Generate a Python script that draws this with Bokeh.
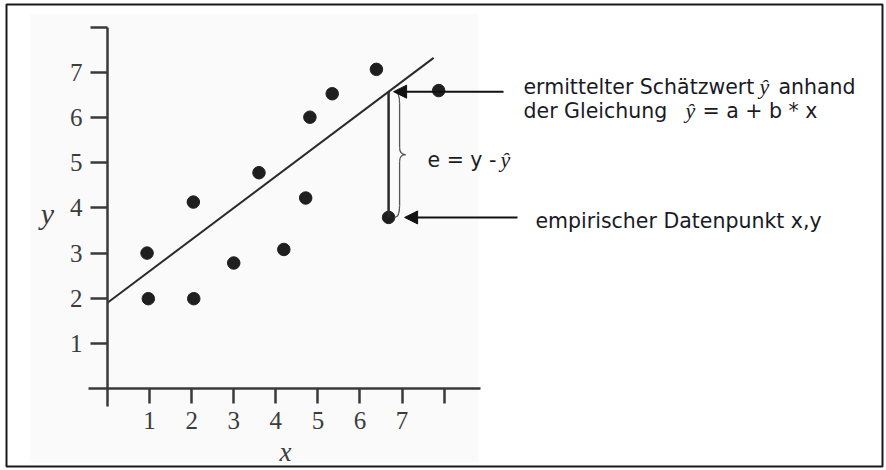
from bokeh.plotting import figure
from bokeh.models import (LinearAxis, FixedTicker, Range1d, ColumnDataSource,
                          Label, Arrow, NormalHead, BoxAnnotation)
from bokeh.embed import file_html
from bokeh.resources import INLINE

# --- data -------------------------------------------------------------
x_obs = [0.97, 0.94, 2.04, 2.05, 3.0, 3.6, 4.19, 4.71, 4.81, 5.34, 6.39, 6.68, 7.87]
y_obs = [1.99, 3.0, 4.13, 1.99, 2.78, 4.78, 3.08, 4.22, 6.01, 6.53, 7.07, 3.79, 6.6]

# regression line  y_hat = a + b * x
a_coef = 1.9
b_coef = 0.7
line_x = [0.0, 7.75]

# the observation whose residual is marked
resid_index = 11

x_ticks = [1, 2, 3, 4, 5, 6, 7, 8]
x_tick_labels = ["1", "2", "3", "4", "5", "6", "7", ""]
y_ticks = [1, 2, 3, 4, 5, 6, 7, 8]
y_tick_labels = ["1", "2", "3", "4", "5", "6", "7", ""]

# --- canvas geometry: pixel <-> data helpers --------------------------
W, H = 886, 470
X0_PX, X_UNIT = 107.0, 42.08     # pixel column of x = 0, pixels per x unit
Y0_PX, Y_UNIT = 388.0, 45.14     # pixel row of y = 0, pixels per y unit


def dx(px):
    return (px - X0_PX) / X_UNIT


def dy(py):
    return (Y0_PX - py) / Y_UNIT


def px_of(x):
    return X0_PX + x * X_UNIT


def py_of(y):
    return Y0_PX - y * Y_UNIT


p = figure(width=W, height=H, output_backend="svg", toolbar_location=None,
           x_range=Range1d(dx(0), dx(W)), y_range=Range1d(dy(H), dy(0)),
           x_axis_type=None, y_axis_type=None, min_border=0)
p.outline_line_color = None
p.background_fill_color = "white"
p.border_fill_color = "white"

INK = "#3a3a3a"
TEXT = "#1a1a26"

# faint tint of the printed figure area
p.add_layout(BoxAnnotation(left=dx(30), right=dx(478), top=dy(14), bottom=dy(462),
                           fill_color="#fafafa", fill_alpha=1.0, line_color=None,
                           level="underlay"))

# outer frame
p.add_layout(BoxAnnotation(left=dx(6), right=dx(882), top=dy(4), bottom=dy(466),
                           fill_color=None, fill_alpha=0, line_color="#1a1a1a",
                           line_alpha=1.0, line_width=2))

# --- axes crossing at the origin -------------------------------------
xax = LinearAxis(fixed_location=0, bounds=(dx(88), dx(480)),
                 ticker=FixedTicker(ticks=x_ticks),
                 major_label_overrides={t: s for t, s in zip(x_ticks, x_tick_labels)})
yax = LinearAxis(fixed_location=0, bounds=(dy(406), y_ticks[-1]),
                 ticker=FixedTicker(ticks=y_ticks),
                 major_label_overrides={t: s for t, s in zip(y_ticks, y_tick_labels)})
for ax, out, stand in ((xax, 15, 8), (yax, 17, 8)):
    ax.axis_line_color = INK
    ax.axis_line_width = 2.5
    ax.major_tick_line_color = INK
    ax.major_tick_line_width = 2.5
    ax.major_tick_in = 0
    ax.major_tick_out = out
    ax.minor_tick_line_color = None
    ax.major_label_standoff = stand
    ax.major_label_text_font = "Liberation Serif"
    ax.major_label_text_font_size = "25px"
    ax.major_label_text_color = "#3c3c3c"
p.add_layout(xax, "below")
p.add_layout(yax, "left")

p.add_layout(Label(x=dx(285), y=dy(451), text="x", text_font="Liberation Serif",
                   text_font_style="italic", text_font_size="27px", text_color="#3c3c3c",
                   text_align="center", text_baseline="middle"))
p.add_layout(Label(x=dx(47), y=dy(213), text="y", text_font="Liberation Serif",
                   text_font_style="italic", text_font_size="30px", text_color="#3c3c3c",
                   text_align="center", text_baseline="middle"))

# --- regression line and observations --------------------------------
line_y = [a_coef + b_coef * v for v in line_x]
p.line(line_x, line_y, line_color="#2a2a2a", line_width=2)

src = ColumnDataSource(data=dict(x=x_obs, y=y_obs))
p.scatter("x", "y", source=src, size=12.5, fill_color="#1f1f1f", line_color="#1f1f1f")

# residual e = y - y_hat for one observation
xr = x_obs[resid_index]
yr = y_obs[resid_index]
yhat = a_coef + b_coef * xr
p.segment(x0=[xr], y0=[yr], x1=[xr], y1=[yhat], line_color="#2a2a2a", line_width=2.5)

# curly brace spanning the residual
top_py, bot_py = py_of(yhat), py_of(yr)
mid_py = 0.5 * (top_py + bot_py)
cx = px_of(xr)
sp = cx + 11          # spine column
tip = cx + 17         # tip column
end = cx + 6          # curled ends
segs = [
    ((end, top_py), (sp, top_py + 12), (sp - 1, top_py), (sp, top_py + 5)),
    ((sp, top_py + 12), (sp, mid_py - 7), (sp, top_py + 20), (sp, mid_py - 15)),
    ((sp, mid_py - 7), (tip, mid_py), (sp, mid_py - 2), (tip - 3, mid_py)),
    ((tip, mid_py), (sp, mid_py + 7), (tip - 3, mid_py), (sp, mid_py + 2)),
    ((sp, mid_py + 7), (sp, bot_py - 12), (sp, mid_py + 15), (sp, bot_py - 20)),
    ((sp, bot_py - 12), (end, bot_py), (sp, bot_py - 5), (sp - 1, bot_py)),
]
p.bezier(x0=[dx(s[0][0]) for s in segs], y0=[dy(s[0][1]) for s in segs],
         x1=[dx(s[1][0]) for s in segs], y1=[dy(s[1][1]) for s in segs],
         cx0=[dx(s[2][0]) for s in segs], cy0=[dy(s[2][1]) for s in segs],
         cx1=[dx(s[3][0]) for s in segs], cy1=[dy(s[3][1]) for s in segs],
         line_color="#555555", line_width=1.3)

# arrows to the estimate and to the observed point
p.add_layout(Arrow(end=NormalHead(size=13, fill_color="#111111", line_color="#111111"),
                   x_start=dx(503), y_start=yhat, x_end=dx(cx + 5), y_end=yhat,
                   line_color="#111111", line_width=2))
p.add_layout(Arrow(end=NormalHead(size=13, fill_color="#111111", line_color="#111111"),
                   x_start=dx(517), y_start=yr, x_end=dx(cx + 16), y_end=yr,
                   line_color="#111111", line_width=2))

# --- annotation texts ------------------------------------------------
SANS = "DejaVu Sans"
SERIF = "Liberation Serif"


def put(px, py, txt, font=SANS, style="normal", size="20.5px"):
    p.add_layout(Label(x=dx(px), y=dy(py), text=txt, text_font=font,
                       text_font_style=style, text_font_size=size, text_color=TEXT,
                       text_align="left", text_baseline="alphabetic"))


put(523, 86, "ermittelter Schätzwert")
put(759, 86, "ŷ", SERIF, "italic", "22px")
put(778, 86, "anhand")
put(523, 110, "der Gleichung")
put(685, 110, "ŷ", SERIF, "italic", "22px")
put(702, 110, "= a + b * x")
put(427, 159, "e = y -")
put(500, 159, "ŷ", SERIF, "italic", "22px")
put(535, 220, "empirischer Datenpunkt x,y")

open("out.html", "w").write(file_html(p, INLINE))
